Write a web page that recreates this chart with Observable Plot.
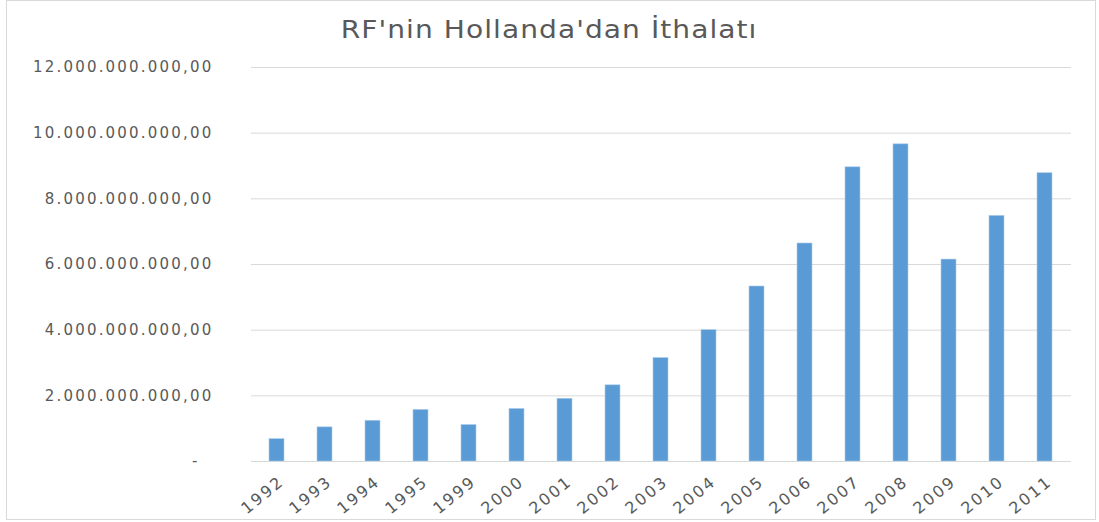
<!DOCTYPE html>
<html>
<head>
<meta charset="utf-8">
<script src="https://cdn.jsdelivr.net/npm/d3@7"></script>
<script src="https://cdn.jsdelivr.net/npm/@observablehq/plot@0.6"></script>
<style>
  html, body { margin: 0; padding: 0; background: #fff; width: 1099px; height: 522px; overflow: hidden; }
  #frame { position: absolute; left: 6px; top: 0px; width: 1088px; height: 518px; border: 1.5px solid #d9d9d9; box-sizing: content-box; }
  #title { position: absolute; left: 0; top: 0; width: 1099px; height: 50px; text-align: center; }
  #title span { display: inline-block; font-family: "DejaVu Sans", sans-serif; font-size: 24px; letter-spacing: 0.9px;
                color: #595959; line-height: 60px; transform: scaleX(1.17); transform-origin: center; }
  #chart { position: absolute; left: 0; top: 50px; }
  #chart svg text { letter-spacing: 2.2px; }
</style>
</head>
<body>
<div id="frame"></div>
<div id="title"><span>RF'nin Hollanda'dan İthalatı</span></div>
<div id="chart"></div>
<script>
const years = ["1992","1993","1994","1995","1999","2000","2001","2002","2003","2004","2005","2006","2007","2008","2009","2010","2011"];
const imports = [0.68e9, 1.04e9, 1.24e9, 1.57e9, 1.11e9, 1.60e9, 1.91e9, 2.32e9, 3.15e9, 4.00e9, 5.33e9, 6.64e9, 8.96e9, 9.66e9, 6.15e9, 7.48e9, 8.78e9];
const yTicks = [0, 2e9, 4e9, 6e9, 8e9, 10e9, 12e9];

const data = years.map((y, i) => ({year: y, value: imports[i]}));
const trFormat = d3.formatLocale({decimal: ",", thousands: ".", grouping: [3], currency: ["", ""]}).format(",.2f");

const chart = Plot.plot({
  width: 1099,
  height: 472,
  marginLeft: 251,
  marginRight: 28,
  marginTop: 17,
  marginBottom: 61,
  style: {fontFamily: "DejaVu Sans, sans-serif", fontSize: "15px", color: "#595959", background: "transparent", overflow: "visible"},
  x: {domain: years, paddingInner: 0.68, paddingOuter: 0.34, label: null},
  y: {domain: [0, 12e9], label: null},
  marks: [
    Plot.gridY(yTicks, {stroke: "#d9d9d9", strokeOpacity: 1, strokeWidth: 1}),
    Plot.barY(data, {x: "year", y: "value", fill: "#5b9bd5", stroke: "#a9cbea", strokeWidth: 0.6}),
    Plot.axisY(yTicks, {tickSize: 0, tickPadding: 38, label: null, fill: "#595959",
      tickFormat: d => d === 0 ? "-\u00a0\u00a0" : trFormat(d)}),
    Plot.axisX({tickSize: 0, tickPadding: 18, dx: 5, tickRotate: -39, fontSize: 16, label: null, fill: "#595959"})
  ]
});
document.getElementById("chart").appendChild(chart);
</script>
</body>
</html>
